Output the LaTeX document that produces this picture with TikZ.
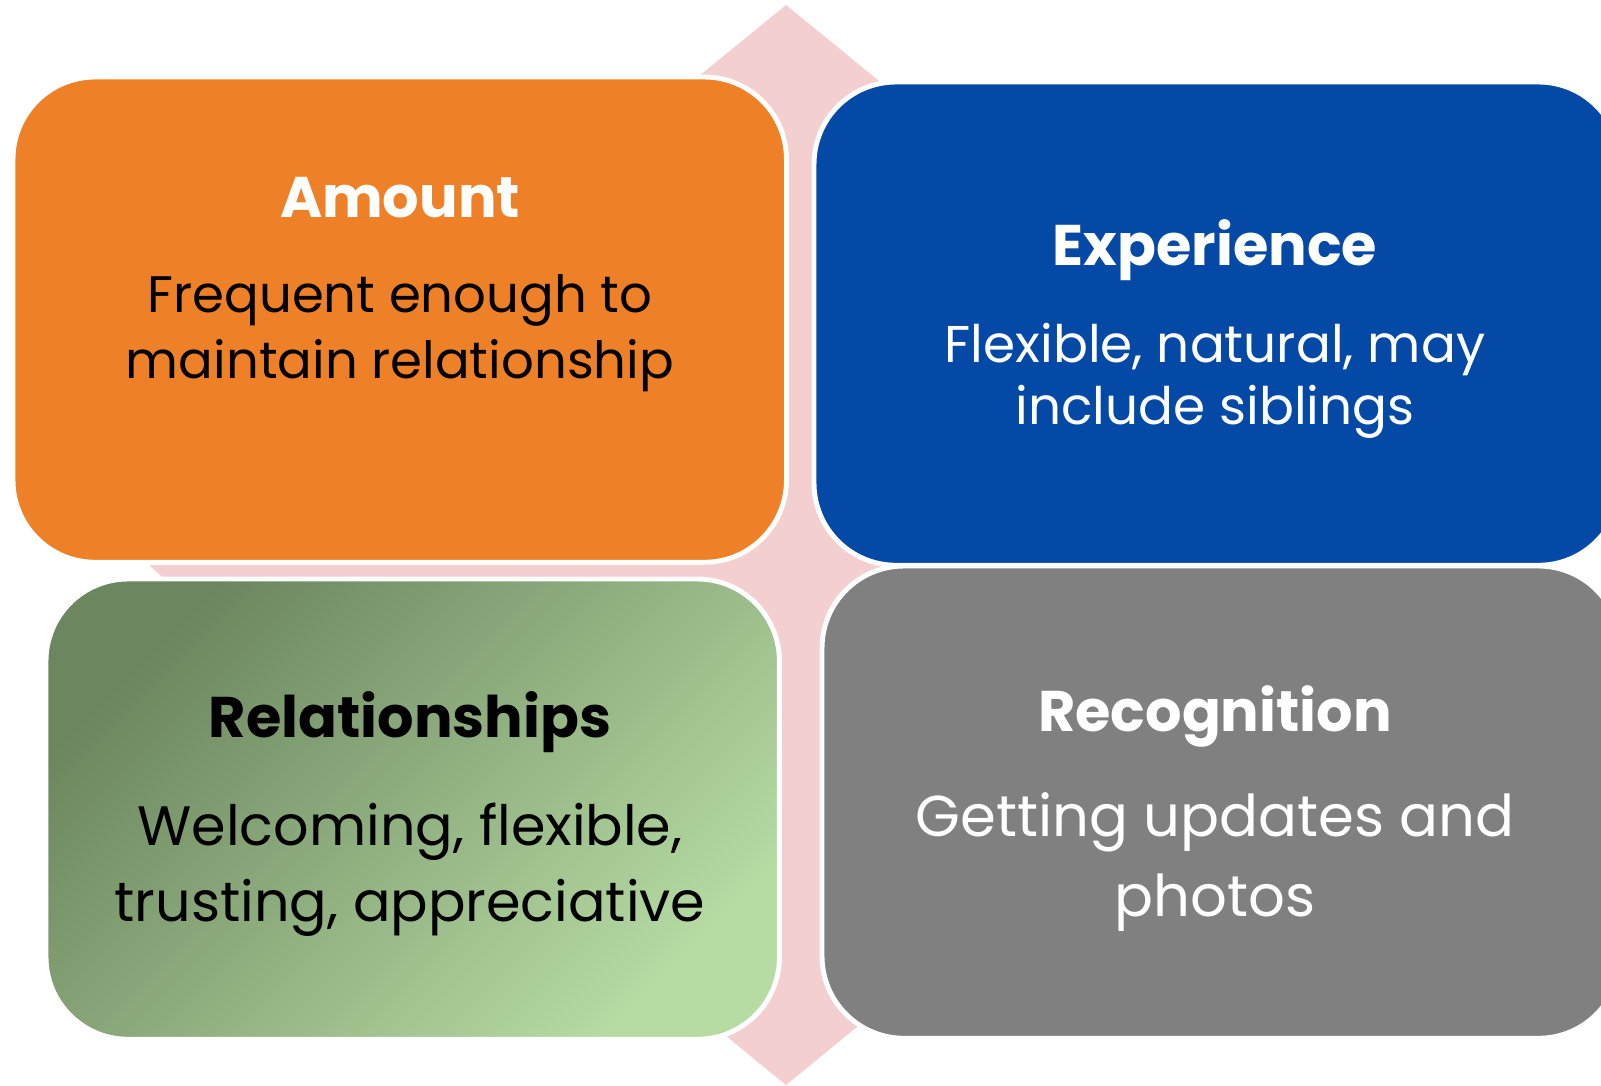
\documentclass[tikz,border=0pt]{standalone}
\usepackage{fontspec}
\setmainfont{Poppins}
\usetikzlibrary{positioning}
\definecolor{amtorange}{HTML}{EE8027}
\definecolor{expblue}{HTML}{0349A5}
\definecolor{recgray}{HTML}{808080}
\definecolor{crosspink}{HTML}{F4CFCF}
\definecolor{reldark}{HTML}{6C865F}
\definecolor{rellight}{HTML}{B6DBA3}
\tikzset{quad/.style={draw=white, line width=1.4pt, rectangle, rounded corners=0.82cm, anchor=north west, inner sep=0pt, outer sep=0pt}}
\tikzset{headtxt/.style={font=\bfseries\fontsize{16.3}{20}\selectfont, anchor=base}}
\tikzset{bodytxt/.style={align=center, anchor=base}}

\begin{document}
\begin{tikzpicture}[x=0.01cm, y=-0.01cm]
{
\useasboundingbox (0,0) rectangle (1601,1085);
\clip (0,0) rectangle (1601,1085);
\fill[crosspink] (786,5) -- (966,152) -- (856,152) -- (856,938) -- (966,938) -- (786,1085) -- (606,938) -- (716,938) -- (716,152) -- (606,152) -- cycle;
\fill[crosspink] (150,566) -- (300,430) -- (300,540) -- (1270,540) -- (1270,430) -- (1422,566) -- (1270,700) -- (1270,590) -- (300,590) -- (300,700) -- cycle;
\node[quad, fill=amtorange, minimum width=7.73cm, minimum height=4.85cm] (amt) at (13,77) {};
\node[quad, fill=expblue, minimum width=8.06cm, minimum height=4.83cm] (exp) at (814,82) {};
\node[quad, top color=reldark, bottom color=rellight, shading angle=45, minimum width=7.33cm, minimum height=4.60cm] (rel) at (46,579) {};
\node[quad, fill=recgray, minimum width=7.98cm, minimum height=4.72cm] (rec) at (822,566) {};
\node[headtxt, white] (amthead) at (400,217) {Amount};
\node[bodytxt, font=\fontsize{14.6}{18.5}\selectfont] (amtbody) at (400,378) {Frequent enough to\\maintain relationship};
\node[headtxt, white] (exphead) at (1215,265) {Experience};
\node[bodytxt, white, font=\fontsize{14.7}{17.4}\selectfont] (expbody) at (1215,424) {Flexible, natural, may\\include siblings};
\node[headtxt] (relhead) at (410,737) {Relationships};
\node[bodytxt, font=\fontsize{15.8}{21.5}\selectfont] (relbody) at (410,921) {Welcoming, flexible,\\trusting, appreciative};
\node[headtxt, white] (rechead) at (1215,731) {Recognition};
\node[bodytxt, white, font=\fontsize{16.4}{22.7}\selectfont] (recbody) at (1215,916) {Getting updates and\\photos};
}
\end{tikzpicture}
\end{document}
